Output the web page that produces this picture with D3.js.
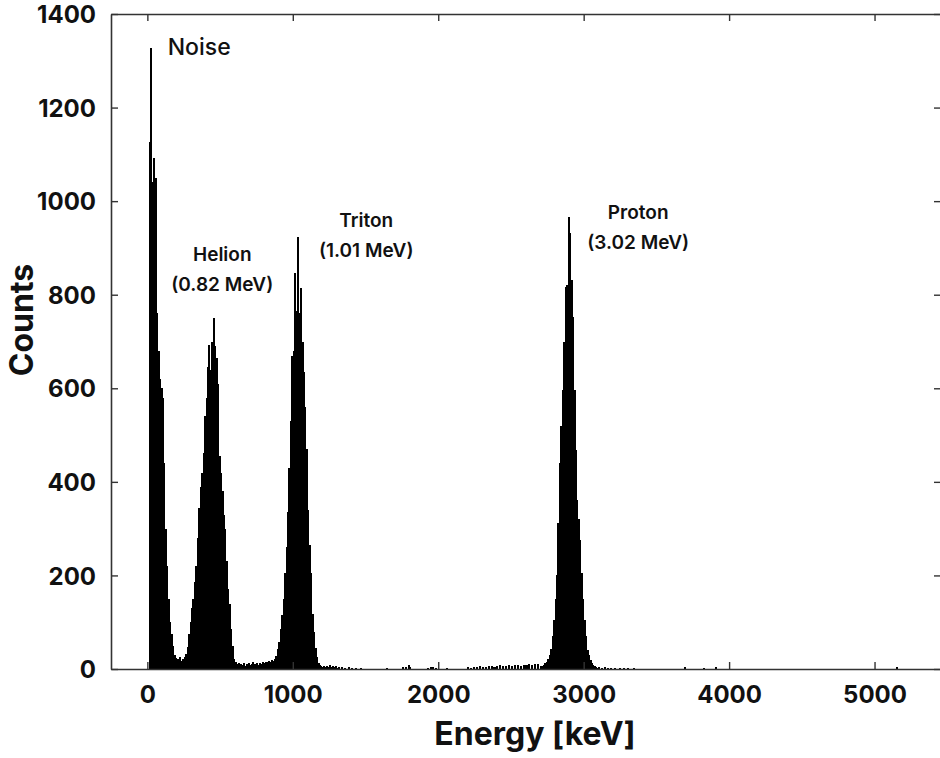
<!DOCTYPE html>
<html>
<head>
<meta charset="utf-8">
<script src="https://cdn.jsdelivr.net/npm/d3@7"></script>
<style>
  body { margin: 0; background: #fff; }
  svg text { font-family: Inter, "Open Sans", sans-serif; fill: #111; }
</style>
</head>
<body>
<svg id="chart" width="940" height="758"></svg>
<script>
// bin width in keV, counts per 10 keV bin
const binWidth = 10;

const noiseStart = 10;
const noiseCounts = [1126, 1327, 1040, 1092, 1050, 760, 680, 620, 600, 580, 440, 300, 220, 150, 100, 75, 50, 30, 24, 22, 20, 25, 18, 22, 26];

const helionStart = 260;
const helionCounts = [32, 48, 75, 100, 130, 150, 185, 220, 280, 345, 390, 420, 462, 540, 580, 645, 692, 640, 700, 750,
  690, 665, 610, 455, 420, 380, 330, 300, 230, 170, 140, 85, 50, 22, 14, 10, 12, 8, 11, 9,
  13, 7, 10, 12, 9, 11, 14, 10, 8, 12, 9, 13, 11, 15, 12, 16, 14, 18, 15, 20];

const tritonStart = 860;
const tritonCounts = [18, 22, 28, 42, 58, 85, 115, 150, 205, 260, 335, 430, 530, 670, 680, 846, 765, 924, 760, 814,
  700, 635, 560, 470, 340, 265, 205, 118, 80, 45, 25, 12, 8];

const protonStart = 2700;
const protonCounts = [6, 7, 8, 12, 16, 22, 30, 42, 70, 105, 150, 200, 312, 440, 520, 596, 700, 817, 820, 967,
  932, 832, 752, 596, 468, 361, 320, 276, 205, 150, 105, 70, 41, 30, 20, 13, 9, 6];

// sparse background counts [energy keV, counts]
const backgroundHits = [
  [1190, 6], [1200, 5], [1210, 7], [1220, 4], [1230, 6], [1240, 5], [1250, 8], [1260, 4], [1270, 6], [1280, 5],
  [1290, 7], [1300, 3], [1310, 5], [1330, 4], [1350, 3], [1380, 4], [1400, 3], [1430, 2], [1460, 3], [1640, 3],
  [1750, 4], [1770, 5], [1790, 8], [1800, 4], [1920, 3], [1940, 4], [1960, 5], [1980, 3], [2050, 3], [2200, 4],
  [2220, 3], [2240, 5], [2260, 4], [2280, 6], [2300, 5], [2320, 4], [2340, 6], [2360, 7], [2380, 5], [2400, 6],
  [2420, 8], [2440, 7], [2460, 6], [2480, 8], [2500, 7], [2520, 9], [2540, 8], [2560, 7], [2580, 9], [2600, 8],
  [2620, 10], [2640, 9], [2660, 11], [2680, 10],
  [3080, 4], [3090, 3], [3100, 4], [3120, 3], [3140, 4], [3160, 2], [3180, 3], [3210, 2], [3240, 3], [3270, 2],
  [3300, 3], [3340, 2], [3690, 4], [3820, 3], [3900, 5], [5150, 4]
];

const xTicks = [0, 1000, 2000, 3000, 4000, 5000];
const yTicks = [0, 200, 400, 600, 800, 1000, 1200, 1400];

const peakLabels = [
  { lines: ["Noise"], e: 140, c: 1312, anchor: "start", size: 23, weight: 500 },
  { lines: ["Helion", "(0.82 MeV)"], e: 515, c: 872, anchor: "middle", size: 19, weight: 600 },
  { lines: ["Triton", "(1.01 MeV)"], e: 1505, c: 945, anchor: "middle", size: 19, weight: 600 },
  { lines: ["Proton", "(3.02 MeV)"], e: 3375, c: 962, anchor: "middle", size: 19, weight: 600 }
];

const toBins = (start, counts) => counts.map((c, i) => ({ e: start + i * binWidth, c }));
const bins = [].concat(
  toBins(noiseStart, noiseCounts),
  toBins(helionStart, helionCounts),
  toBins(tritonStart, tritonCounts),
  toBins(protonStart, protonCounts),
  backgroundHits.map(([e, c]) => ({ e, c }))
);

const plotLeft = 111, plotRight = 941, plotTop = 14, plotBottom = 669;
const svg = d3.select("#chart");

const x = d3.scaleLinear().domain([-250, 5457]).range([plotLeft, plotRight]);
const y = d3.scaleLinear().domain([0, 1400]).range([plotBottom, plotTop]);

// histogram bars
svg.append("g")
  .attr("shape-rendering", "crispEdges")
  .selectAll("rect")
  .data(bins)
  .join("rect")
  .attr("x", d => x(d.e))
  .attr("width", x(binWidth) - x(0) + 0.6)
  .attr("y", d => y(d.c))
  .attr("height", d => y(0) - y(d.c))
  .attr("fill", "#000");

// frame with inward ticks
const axisColor = "#333";
const fmt = d3.format("d");
const bottomAxis = svg.append("g").attr("transform", `translate(0,${plotBottom})`)
  .call(d3.axisBottom(x).tickValues(xTicks).tickFormat(fmt).tickSizeInner(-7).tickSizeOuter(0).tickPadding(17));
const topAxis = svg.append("g").attr("transform", `translate(0,${plotTop})`)
  .call(d3.axisTop(x).tickValues(xTicks).tickSizeInner(-7).tickSizeOuter(0).tickFormat(""));
const leftAxis = svg.append("g").attr("transform", `translate(${plotLeft},0)`)
  .call(d3.axisLeft(y).tickValues(yTicks).tickFormat(fmt).tickSizeInner(-7).tickSizeOuter(0).tickPadding(15));
const rightAxis = svg.append("g").attr("transform", `translate(${plotRight},0)`)
  .call(d3.axisRight(y).tickValues(yTicks).tickSizeInner(-7).tickSizeOuter(0).tickFormat(""));

[bottomAxis, topAxis, leftAxis, rightAxis].forEach(g => {
  g.select(".domain").attr("stroke", axisColor).attr("stroke-width", 1.6);
  g.selectAll(".tick line").attr("stroke", axisColor).attr("stroke-width", 1.4);
  g.selectAll(".tick text")
    .style("font-family", "Inter, 'Open Sans', sans-serif")
    .attr("font-size", 24).attr("font-weight", 700).attr("fill", "#111");
});
leftAxis.selectAll(".tick text").attr("dy", "0.36em");

// axis titles
svg.append("text")
  .attr("x", 535)
  .attr("y", 745)
  .attr("text-anchor", "middle")
  .attr("font-size", 32).attr("font-weight", 700)
  .text("Energy [keV]");

svg.append("text")
  .attr("transform", "translate(33,320) rotate(-90)")
  .attr("text-anchor", "middle")
  .attr("font-size", 32).attr("font-weight", 700)
  .text("Counts");

// peak annotations
peakLabels.forEach(p => {
  const t = svg.append("text")
    .attr("x", x(p.e))
    .attr("y", y(p.c))
    .attr("text-anchor", p.anchor)
    .attr("font-size", p.size).attr("font-weight", p.weight);
  p.lines.forEach((line, i) => {
    t.append("tspan").attr("x", x(p.e)).attr("dy", i === 0 ? 0 : 30).text(line);
  });
});
</script>
</body>
</html>
